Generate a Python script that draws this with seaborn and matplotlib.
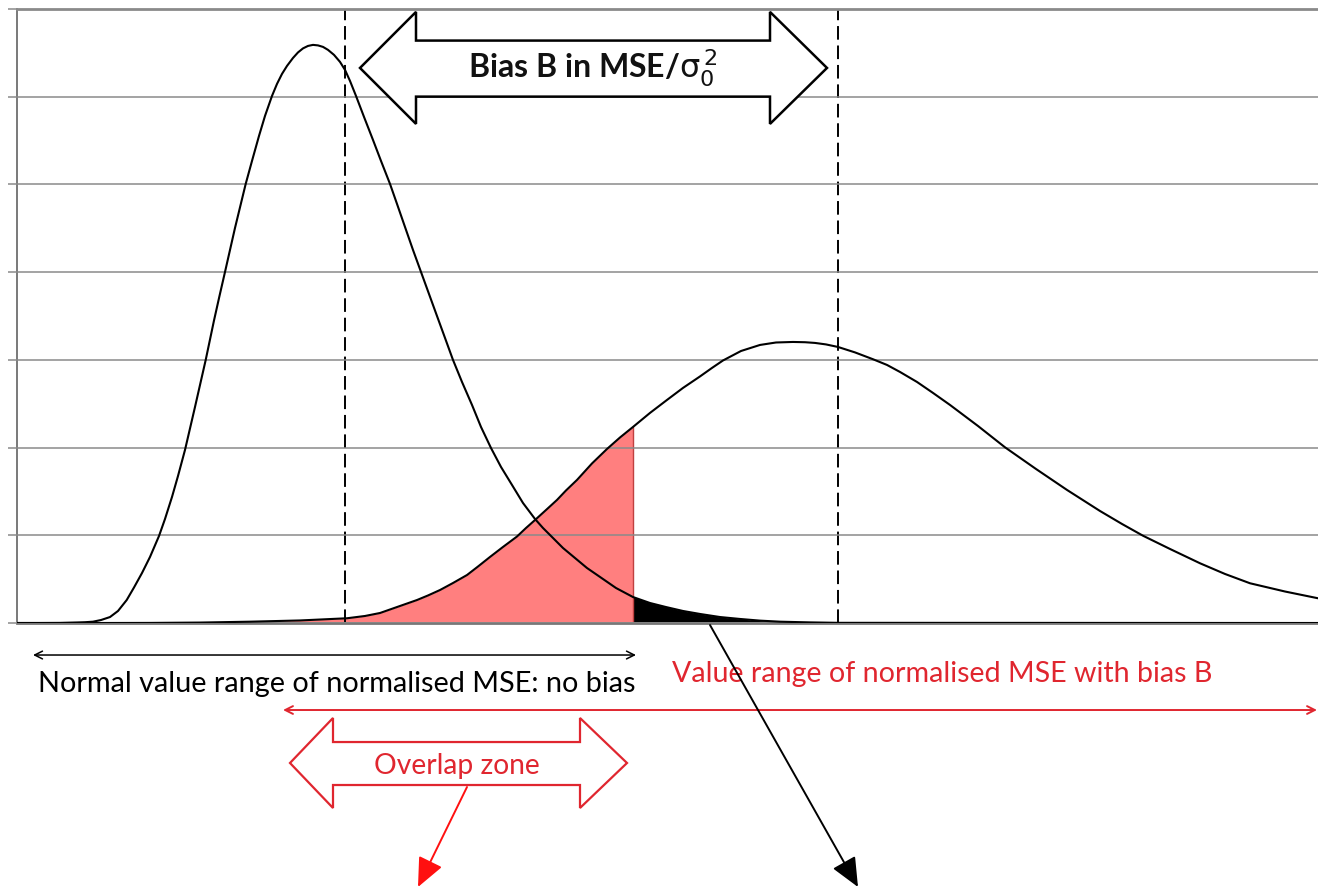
import numpy as np
import pandas as pd
import matplotlib
matplotlib.use("Agg")
import matplotlib.pyplot as plt
import seaborn as sns
from matplotlib.patches import Polygon

# ---------------- data ----------------
# distribution of normalised MSE without bias
nobias_x = [0, 0.23, 0.43, 0.60, 0.68, 0.76, 0.84, 0.93, 1.01, 1.097,
            1.17, 1.25, 1.33, 1.42, 1.48, 1.55, 1.61, 1.68, 1.78, 1.887,
            1.97, 2.025, 2.08, 2.18, 2.287, 2.35, 2.42, 2.48, 2.55, 2.60,
            2.65, 2.70, 2.76, 2.81, 2.86, 2.91, 2.96, 3.01, 3.06, 3.11,
            3.17, 3.23, 3.28, 3.33, 3.39, 3.47, 3.56, 3.64, 3.73, 3.80,
            3.88, 3.96, 4.04, 4.12, 4.20, 4.28, 4.36, 4.45, 4.55, 4.64,
            4.74, 4.84, 4.95, 5.06, 5.18, 5.26, 5.34, 5.46, 5.58, 5.70,
            5.83, 5.99, 6.16, 6.33, 6.49, 6.66, 6.83, 7.03, 7.23, 7.43,
            7.63, 7.93, 8.21, 13.01]
nobias_y = [0, 0, 0.001, 0.006, 0.009, 0.015, 0.034, 0.068, 0.137, 0.262,
            0.405, 0.570, 0.753, 0.992, 1.186, 1.437, 1.676, 1.973, 2.463, 2.999,
            3.449, 3.729, 4.002, 4.504, 5.006, 5.268, 5.553, 5.781, 6.009, 6.146,
            6.260, 6.351, 6.442, 6.505, 6.551, 6.579, 6.591, 6.585, 6.568, 6.534,
            6.477, 6.397, 6.306, 6.180, 6.009, 5.770, 5.507, 5.268, 5.006, 4.778,
            4.515, 4.253, 4.002, 3.751, 3.500, 3.250, 2.999, 2.748, 2.486, 2.235,
            1.995, 1.779, 1.574, 1.368, 1.186, 1.083, 0.992, 0.855, 0.741, 0.627,
            0.525, 0.399, 0.296, 0.228, 0.182, 0.137, 0.103, 0.068, 0.046, 0.027,
            0.015, 0.007, 0.002, 0]
# distribution of normalised MSE with bias B
bias_x = [0, 0.83, 1.33, 1.83, 2.33, 2.83, 3.30, 3.48, 3.63, 3.83,
          4.00, 4.11, 4.23, 4.36, 4.50, 4.61, 4.73, 4.86, 5.00, 5.09,
          5.18, 5.29, 5.40, 5.49, 5.60, 5.75, 5.90, 6.03, 6.16, 6.33,
          6.50, 6.66, 6.83, 6.95, 7.06, 7.24, 7.43, 7.59, 7.76, 7.88,
          7.98, 8.09, 8.21, 8.38, 8.56, 8.70, 8.83, 9.00, 9.16, 9.33,
          9.61, 9.88, 10.19, 10.50, 10.83, 11.05, 11.26, 11.53, 11.83, 12.08,
          12.33, 12.68, 13.01]
bias_y = [0, 0, 0.001, 0.005, 0.015, 0.029, 0.054, 0.080, 0.114, 0.194,
          0.262, 0.314, 0.376, 0.456, 0.547, 0.644, 0.753, 0.867, 0.986, 1.083,
          1.174, 1.288, 1.403, 1.511, 1.631, 1.819, 1.984, 2.115, 2.235, 2.395,
          2.543, 2.680, 2.811, 2.908, 2.993, 3.101, 3.170, 3.198, 3.204, 3.201,
          3.193, 3.176, 3.147, 3.085, 3.007, 2.942, 2.862, 2.748, 2.623, 2.486,
          2.246, 2.003, 1.756, 1.517, 1.277, 1.129, 0.995, 0.844, 0.681, 0.559,
          0.453, 0.359, 0.282]
threshold = 6.16
dashed_x = [3.28, 8.21]
grid_levels = [0, 1, 2, 3, 4, 5, 6, 7]

title_bias = r"Bias B in MSE/$\mathrm{\sigma}_0^{\,2}$"
label_normal = "Normal value range of normalised MSE: no bias"
label_biased = "Value range of normalised MSE with bias B"
label_overlap = "Overlap zone"

# ---------------- style ----------------
sns.set_theme(style="white")
plt.rcParams["font.family"] = ["Lato", "DejaVu Sans"]

RED_TXT = "#E0262F"
RED_ARROW = "#FF1010"
FILL_RED = "#FF7F7F"
GRID = "#8A8A8A"

fig = plt.figure(figsize=(13.18, 8.92), dpi=100)
ax = fig.add_axes([17 / 1318, 269 / 892, 1 - 17 / 1318, 614 / 892])
ax.set_xlim(0, 13.01)
ax.set_ylim(0, 7)

df1 = pd.DataFrame({"x": nobias_x, "y": nobias_y})
df2 = pd.DataFrame({"x": bias_x, "y": bias_y})

# fills
m2 = df2["x"] <= threshold
ax.fill_between(df2.loc[m2, "x"], df2.loc[m2, "y"], color=FILL_RED, lw=0, zorder=0.3)
m1 = df1["x"] >= threshold
ax.fill_between(df1.loc[m1, "x"], df1.loc[m1, "y"], color="black", lw=0, zorder=0.3)
ax.plot([threshold, threshold], [0, df2.loc[df2["x"] == threshold, "y"].iloc[0]],
        color="#C04040", lw=1.0, zorder=0.35)

# grid lines
ax.set_yticks(grid_levels)
ax.set_yticklabels([])
ax.set_xticks([])
ax.set_axisbelow(False)
ax.grid(axis="y", color=GRID, lw=1.1, zorder=0.5)
ax.tick_params(axis="y", length=6.5, width=1.1, color=GRID, direction="out", left=True)

# curves
sns.lineplot(data=df1, x="x", y="y", ax=ax, color="black", lw=1.5, sort=False,
             estimator=None, zorder=3)
sns.lineplot(data=df2, x="x", y="y", ax=ax, color="black", lw=1.5, sort=False,
             estimator=None, zorder=3)
ax.set_xlabel("")
ax.set_ylabel("")

# dashed lines
for xv in dashed_x:
    ax.axvline(xv, color="black", lw=1.4, ls=(0, (7, 3)), zorder=2)

# spines
ax.spines["right"].set_visible(False)
ax.spines["left"].set_color("#555555")
ax.spines["left"].set_linewidth(1.1)
ax.spines["bottom"].set_color("#777777")
ax.spines["bottom"].set_linewidth(2.0)
ax.spines["top"].set_color("#8A8A8A")
ax.spines["top"].set_linewidth(2.0)

# top double arrow (Bias B)
top_arrow = [(3.43, 6.328), (3.99, 6.967), (3.99, 6.640), (7.53, 6.640), (7.53, 6.967),
             (8.10, 6.328), (7.53, 5.690), (7.53, 6.001), (3.99, 6.001), (3.99, 5.690)]
ax.add_patch(Polygon(top_arrow, closed=True, facecolor="white", edgecolor="black",
                     lw=1.8, zorder=5, clip_on=False, joinstyle="miter"))
ax.text(5.76, 6.33, title_bias, ha="center", va="center", fontsize=23,
        fontweight="bold", color="#111111", zorder=6)

# below-axis annotations
ax.annotate("", xy=(0.16, -0.365), xytext=(6.19, -0.365), xycoords="data",
            arrowprops=dict(arrowstyle="<->", color="black", lw=1.1, shrinkA=0, shrinkB=0,
                            mutation_scale=14), annotation_clip=False)
ax.text(3.20, -0.69, label_normal, ha="center", va="center", fontsize=20.8, color="black",
        clip_on=False)
ax.text(9.255, -0.585, label_biased, ha="center", va="center", fontsize=20.6, color=RED_TXT,
        clip_on=False)
ax.annotate("", xy=(2.66, -0.992), xytext=(13.0, -0.992), xycoords="data",
            arrowprops=dict(arrowstyle="<->", color=RED_TXT, lw=1.4, shrinkA=0, shrinkB=0,
                            mutation_scale=14), annotation_clip=False)

overlap_arrow = [(2.73, -1.596), (3.16, -1.083), (3.16, -1.357), (5.63, -1.357),
                 (5.63, -1.083), (6.10, -1.596), (5.63, -2.109), (5.63, -1.847),
                 (3.16, -1.847), (3.16, -2.109)]
ax.add_patch(Polygon(overlap_arrow, closed=True, facecolor="white", edgecolor=RED_TXT,
                     lw=1.6, zorder=5, clip_on=False, joinstyle="miter"))
ax.text(4.40, -1.63, label_overlap, ha="center", va="center", fontsize=20.3, color=RED_TXT,
        zorder=6, clip_on=False)

# pointer arrows
ax.annotate("", xy=(4.01, -3.01), xytext=(4.50, -1.87), xycoords="data",
            arrowprops=dict(arrowstyle="-|>,head_length=0.9,head_width=0.4", color=RED_ARROW,
                            lw=1.4, shrinkA=0, shrinkB=0, mutation_scale=20),
            annotation_clip=False)
ax.annotate("", xy=(8.41, -3.01), xytext=(6.93, -0.023), xycoords="data",
            arrowprops=dict(arrowstyle="-|>,head_length=0.9,head_width=0.4", color="black",
                            lw=1.4, shrinkA=0, shrinkB=0, mutation_scale=20),
            annotation_clip=False)

fig.savefig("out.png", dpi=100, facecolor="white")
